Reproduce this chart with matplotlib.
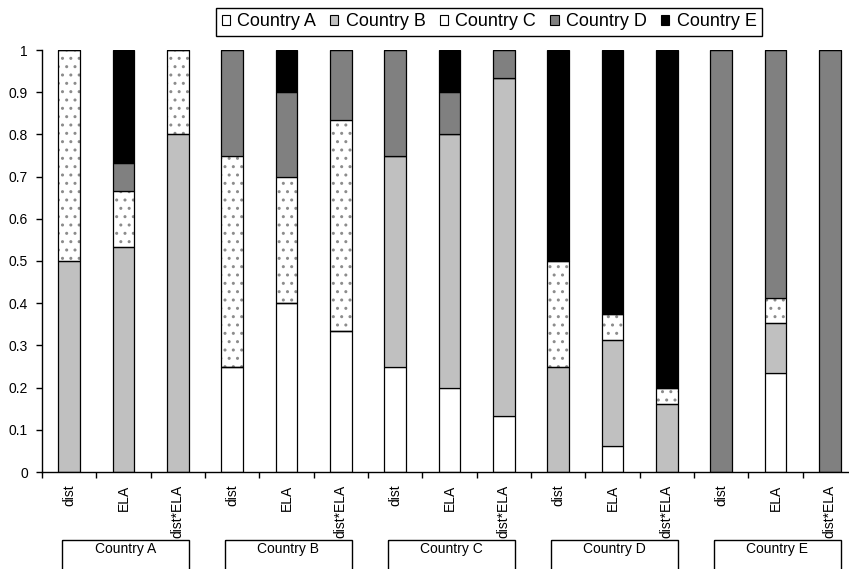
import numpy as np
import matplotlib
matplotlib.use('Agg')
import matplotlib.pyplot as plt
from matplotlib.patches import Patch, Rectangle
import matplotlib.transforms as mtransforms

plt.rcParams['font.family'] = ['Liberation Sans', 'DejaVu Sans']
plt.rcParams['hatch.linewidth'] = 1.0

# data: share of each country in each bar (stacked bottom to top A..E)
countries = ['Country A', 'Country B', 'Country C', 'Country D', 'Country E']
measures = ['dist', 'ELA', 'dist*ELA']
share_a = [0, 0, 0, 0.25, 0.4, 0.333, 0.25, 0.2, 0.133, 0, 0.0625, 0, 0, 0.235, 0]
share_b = [0.5, 0.533, 0.8, 0, 0, 0, 0.5, 0.6, 0.8, 0.25, 0.25, 0.16, 0, 0.118, 0]
share_c = [0.5, 0.133, 0.2, 0.5, 0.3, 0.5, 0, 0, 0, 0.25, 0.0625, 0.04, 0, 0.059, 0]
share_d = [0, 0.067, 0, 0.25, 0.2, 0.167, 0.25, 0.1, 0.067, 0, 0, 0, 1, 0.588, 1]
share_e = [0, 0.267, 0, 0, 0.1, 0, 0, 0.1, 0, 0.5, 0.625, 0.8, 0, 0, 0]
ytick_labels = ['0', '0.1', '0.2', '0.3', '0.4', '0.5', '0.6', '0.7', '0.8', '0.9', '1']

series = [share_a, share_b, share_c, share_d, share_e]
fills = ['white', '#c0c0c0', 'white', '#808080', 'black']
hatches = [None, None, '..', None, None]

fig = plt.figure(figsize=(8.49, 5.69), dpi=100)
ax = fig.add_axes([42 / 849, 1 - 472 / 569, 815 / 849, 422 / 569])

x = np.arange(len(measures) * len(countries))
width = 0.4
bottom = np.zeros(len(x))
for vals, fc, h in zip(series, fills, hatches):
    vals = np.array(vals, dtype=float)
    if h:
        ax.bar(x, vals, width, bottom=bottom, color='white', edgecolor='#8c8c8c',
               linewidth=0, hatch=h, zorder=2)
        ax.bar(x, vals, width, bottom=bottom, fill=False, edgecolor='black',
               linewidth=0.9, zorder=3)
    else:
        ax.bar(x, vals, width, bottom=bottom, color=fc, edgecolor='black',
               linewidth=0.9, zorder=3)
    bottom += vals

ax.set_xlim(-0.5, len(x) - 0.5)
ax.set_ylim(0, 1)
ax.set_yticks(np.linspace(0, 1, 11))
ax.set_yticklabels(ytick_labels)
ax.tick_params(axis='y', direction='out', length=4, width=1, labelsize=10, pad=6)

ax.set_xticks(x)
ax.set_xticklabels(measures * len(countries), rotation=90, fontsize=10)
ax.set_xticks(np.arange(len(x)) - 0.5, minor=True)
ax.tick_params(axis='x', which='major', length=0, pad=9)
ax.tick_params(axis='x', which='minor', direction='out', length=4, width=1)

for s in ['top', 'right']:
    ax.spines[s].set_visible(False)
for s in ['left', 'bottom']:
    ax.spines[s].set_linewidth(1)
    ax.spines[s].set_zorder(4)

# group boxes below the tick labels
trans = mtransforms.blended_transform_factory(ax.transData, ax.transAxes)
n = len(measures)
for g, name in enumerate(countries):
    c = g * n + 1 + 0.03
    ax.add_patch(Rectangle((c - 1.17, -0.161), 2.34, -0.2, transform=trans,
                           fill=False, edgecolor='black', linewidth=1, clip_on=False))
    ax.text(c, -0.167, name, transform=trans, ha='center', va='top', fontsize=10)

handles = [Patch(facecolor=fc, edgecolor='black', linewidth=0.8, label=name)
           for fc, name in zip(fills, countries)]
leg = fig.legend(handles=handles, loc='upper center', bbox_to_anchor=(489 / 849, 1 - 8 / 569),
                 ncol=5, fontsize=13, handlelength=0.45, handleheight=0.45,
                 handletextpad=0.4, columnspacing=0.8, borderpad=0.3,
                 fancybox=False, framealpha=1, edgecolor='black', borderaxespad=0)
leg.get_frame().set_linewidth(1)

fig.savefig('out.png', dpi=100)
